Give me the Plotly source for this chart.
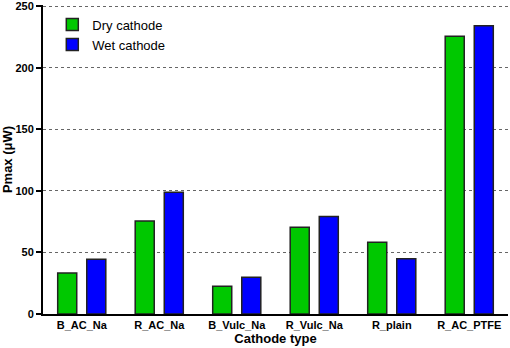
import plotly.graph_objects as go

categories = ["B_AC_Na", "R_AC_Na", "B_Vulc_Na", "R_Vulc_Na", "R_plain", "R_AC_PTFE"]
dry = [33.3, 75.5, 22.5, 70.4, 58.2, 225.7]
wet = [44.5, 98.8, 29.8, 79.3, 44.9, 234.1]
y_ticks = [0, 50, 100, 150, 200, 250]

fig = go.Figure()
fig.add_trace(go.Bar(x=categories, y=dry, name="Dry cathode",
                     marker=dict(color="rgb(0,200,0)", line=dict(color="#222222", width=1.5))))
fig.add_trace(go.Bar(x=categories, y=wet, name="Wet cathode",
                     marker=dict(color="rgb(0,0,255)", line=dict(color="#222222", width=1.5))))

fig.update_layout(
    width=510, height=348,
    margin=dict(l=43, r=2, t=5, b=34, autoexpand=False),
    plot_bgcolor="white", paper_bgcolor="white",
    barmode="group", bargap=0.25, bargroupgap=0.345,
    font=dict(family="Liberation Sans, Arial, sans-serif", color="black"),
    showlegend=True,
    legend=dict(x=0.02, y=0.985, xanchor="left", yanchor="top",
                font=dict(size=13), bgcolor="rgba(0,0,0,0)", itemwidth=30,
                tracegroupgap=0),
)
fig.update_xaxes(
    range=[-0.5, 5.5], showline=True, linecolor="black", linewidth=2,
    ticks="", tickfont=dict(size=11, weight="bold"),
    title=dict(text="<b>Cathode type</b>", font=dict(size=13), standoff=1),
    showgrid=False, automargin=False,
)
fig.update_yaxes(
    range=[0, 251], tickvals=y_ticks, showline=True, linecolor="black", linewidth=2,
    ticks="outside", ticklen=5, tickwidth=2, tickcolor="black",
    tickfont=dict(size=11, weight="bold"),
    title=dict(text="<b>Pmax (μW)</b>", font=dict(size=13), standoff=4),
    showgrid=True, gridcolor="#666666", gridwidth=1, griddash="dot",
    zeroline=False, automargin=False,
)
fig.write_html("out.html", config={"displayModeBar": False},
               post_script="document.body.style.margin='0';")
